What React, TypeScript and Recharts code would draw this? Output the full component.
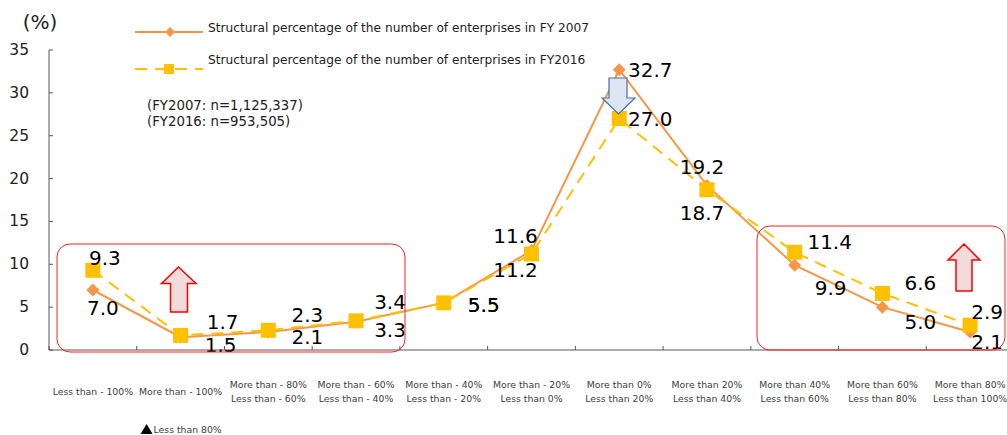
import React from 'react';
import { LineChart, Line, XAxis, YAxis, Legend, LabelList } from 'recharts';

const categories = [
  'Less than - 100%',
  'More than - 100%',
  'More than - 80%|Less than - 60%',
  'More than - 60%|Less than - 40%',
  'More than - 40%|Less than - 20%',
  'More than - 20%|Less than 0%',
  'More than 0%|Less than 20%',
  'More than 20%|Less than 40%',
  'More than 40%|Less than 60%',
  'More than 60%|Less than 80%',
  'More than 80%|Less than 100%',
];
const fy2007 = [7.0, 1.5, 2.1, 3.3, 5.5, 11.6, 32.7, 19.2, 9.9, 5.0, 2.1];
const fy2016 = [9.3, 1.7, 2.3, 3.4, 5.5, 11.2, 27.0, 18.7, 11.4, 6.6, 2.9];
const yTicks = [0, 5, 10, 15, 20, 25, 30, 35];
const seriesNames = [
  'Structural percentage of the number of enterprises in FY 2007',
  'Structural percentage of the number of enterprises in FY2016',
];
const notes = ['(FY2007: n=1,125,337)', '(FY2016: n=953,505)'];
const extraNote = 'Less than 80%';

// label offsets (styling) relative to each point
const off2007: [number, number][] = [[10, 18], [40, 8], [39, 5], [34, 8], [40, 2], [-16, -15], [31, 0], [-5, -18], [36, 23], [38, 15], [17, 10]];
const off2016: [number, number][] = [[12, -12], [42, -13], [39, -15], [34, -19], [40, 2], [-16, 16], [31, 0], [-5, 23], [35, -10], [38, -10], [17, -13]];

const data = categories.map((c, i) => ({ cat: c, fy2007: fy2007[i], fy2016: fy2016[i] }));

const FONT = '"DejaVu Sans", Verdana, sans-serif';
const ORANGE = '#F79646';
const YELLOW = '#FFC000';
const CHART_W = 1020;
const CHART_H = 435;
const X_H = 30;
const MARGIN = { top: 50, right: 6, left: 0, bottom: 55 };
const Y_W = 49;
const HALF_BAND = (CHART_W - MARGIN.left - MARGIN.right - Y_W) / categories.length / 2;

const DiamondDot = (p: any) => {
  const { cx, cy } = p;
  if (cx == null || cy == null) return null;
  const s = 6.5;
  return <path d={`M${cx},${cy - s}L${cx + s},${cy}L${cx},${cy + s}L${cx - s},${cy}Z`} fill={ORANGE} />;
};
const SquareDot = (p: any) => {
  const { cx, cy } = p;
  if (cx == null || cy == null) return null;
  const s = 7.5;
  return <rect x={cx - s} y={cy - s} width={2 * s} height={2 * s} fill={YELLOW} />;
};

const makeLabel = (offs: [number, number][]) => (p: any) => {
  const { x, y, value, index } = p;
  const o = offs[index] || [0, 0];
  return (
    <text x={Number(x) + o[0]} y={Number(y) + o[1]} textAnchor="middle" dominantBaseline="central"
      fontSize={20} fontFamily={FONT} fill="#000">
      {Number(value).toFixed(1)}
    </text>
  );
};

const YTick = (p: any) => {
  const { x, y, payload } = p;
  return (
    <g>
      <line x1={x} x2={x + 4} y1={y} y2={y} stroke="#595959" />
      <text x={x - 20} y={y} textAnchor="end" dominantBaseline="central" fontSize={15.5} fontFamily={FONT} fill="#222">
        {payload.value}
      </text>
    </g>
  );
};

const XTick = (p: any) => {
  const { x, y, payload, index } = p;
  const lines = String(payload.value).split('|');
  return (
    <g>
      <line x1={x - HALF_BAND} x2={x - HALF_BAND} y1={y} y2={y - 4} stroke="#595959" />
      {index === categories.length - 1 && (
        <line x1={x + HALF_BAND} x2={x + HALF_BAND} y1={y} y2={y - 4} stroke="#595959" />
      )}
      {lines.length === 1 ? (
        <text x={x} y={y + 41} textAnchor="middle" dominantBaseline="central" fontSize={9.3} fontFamily={FONT} fill="#404040">
          {lines[0]}
        </text>
      ) : (
        lines.map((l, k) => (
          <text key={k} x={x} y={y + 34 + k * 14.5} textAnchor="middle" dominantBaseline="central" fontSize={9.3} fontFamily={FONT} fill="#404040">
            {l}
          </text>
        ))
      )}
      {index === 1 && (
        <g>
          <path d={`M${x - 40},${y + 84}L${x - 34},${y + 74}L${x - 28},${y + 84}Z`} fill="#000" />
          <text x={x - 27} y={y + 79} textAnchor="start" dominantBaseline="central" fontSize={9.3} fontFamily={FONT} fill="#404040">
            {extraNote}
          </text>
        </g>
      )}
    </g>
  );
};

const LegendContent = (props: any) => {
  const items = props.payload ?? [];
  return (
    <svg width={620} height={80} style={{ display: 'block', overflow: 'visible' }}>
      {items.map((it: any, i: number) => {
        const ly = i === 0 ? 32 : 69;
        const ty = i === 0 ? 28 : 60;
        const isDash = i === 1;
        return (
          <g key={i}>
            <line x1={135} x2={203} y1={ly} y2={ly} stroke={it.color} strokeWidth={2}
              strokeDasharray={isDash ? '12 8' : undefined} />
            {isDash ? (
              <rect x={164} y={ly - 5} width={10} height={10} fill={YELLOW} />
            ) : (
              <path d={`M170,${ly - 5}L175,${ly}L170,${ly + 5}L165,${ly}Z`} fill={ORANGE} />
            )}
            <text x={208} y={ty} dominantBaseline="central" fontSize={12.2} fontFamily={FONT} fill="#222">
              {it.value}
            </text>
          </g>
        );
      })}
    </svg>
  );
};

export default function App() {
  return (
    <div style={{ position: 'absolute', left: 0, top: 0, width: 1007, height: 435, overflow: 'hidden', background: '#fff' }}>
      <LineChart width={CHART_W} height={CHART_H} data={data} margin={MARGIN}>
        <XAxis dataKey="cat" interval={0} tickLine={false} tickSize={0} tickMargin={0} height={X_H}
          padding={{ left: HALF_BAND, right: HALF_BAND }}
          axisLine={{ stroke: '#595959' }} tick={<XTick />} />
        <YAxis domain={[0, 35]} ticks={yTicks} interval={0} width={Y_W} tickLine={false} tickSize={0} tickMargin={0}
          axisLine={{ stroke: '#595959' }} tick={<YTick />} />
        <Legend layout="vertical" align="center" verticalAlign="middle" content={<LegendContent />}
          wrapperStyle={{ left: 0, top: 0, width: 620, height: 80 }} />
        <Line dataKey="fy2007" name={seriesNames[0]} stroke={ORANGE} strokeWidth={2} dot={<DiamondDot />}
          activeDot={false} isAnimationActive={false}>
          <LabelList dataKey="fy2007" content={makeLabel(off2007)} />
        </Line>
        <Line dataKey="fy2016" name={seriesNames[1]} stroke={YELLOW} strokeWidth={2} strokeDasharray="12 8"
          dot={<SquareDot />} activeDot={false} isAnimationActive={false}>
          <LabelList dataKey="fy2016" content={makeLabel(off2016)} />
        </Line>
      </LineChart>
      <svg width={1007} height={435} style={{ position: 'absolute', left: 0, top: 0, pointerEvents: 'none' }}>
        <text x={40} y={22} textAnchor="middle" dominantBaseline="central" fontSize={20} fontFamily={FONT} fill="#222">(%)</text>
        <text x={147} y={105} dominantBaseline="central" fontSize={13.3} fontFamily={FONT} fill="#222">{notes[0]}</text>
        <text x={147} y={121} dominantBaseline="central" fontSize={13.3} fontFamily={FONT} fill="#222">{notes[1]}</text>
        <rect x={57} y={244} width={348} height={108} rx={13} ry={13} fill="none" stroke="#FF2020" strokeWidth={1} />
        <rect x={757} y={226} width={248} height={124} rx={13} ry={13} fill="none" stroke="#FF2020" strokeWidth={1} />
        <path d="M178.5,267L196,283.5L187.5,283.5L187.5,312L170.5,312L170.5,283.5L161.5,283.5Z" fill="#F2DCDB" stroke="#FF0000" strokeWidth={1.5} />
        <path d="M964,244L980,260L972,260L972,291L956,291L956,260L948,260Z" fill="#F2DCDB" stroke="#FF0000" strokeWidth={1.5} />
        <path d="M609,78L627,78L627,98L635,98L618.5,114L602,98L609,98Z" fill="#DCE6F2" stroke="#4F6D9E" strokeWidth={1.2} />
      </svg>
    </div>
  );
}
